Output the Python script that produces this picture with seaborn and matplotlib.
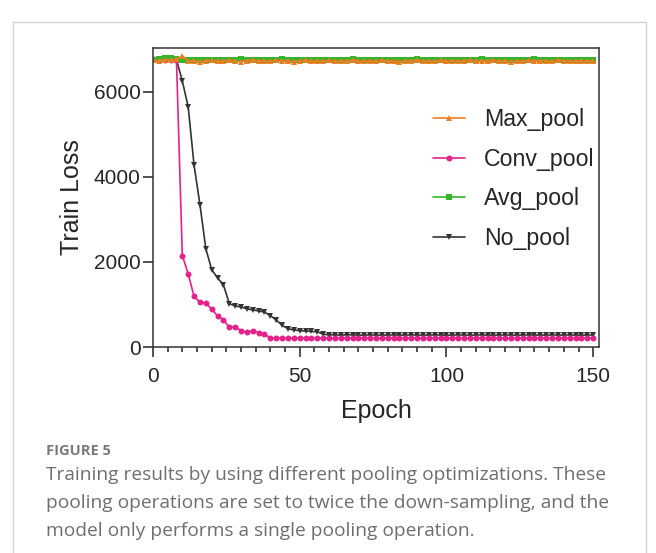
import numpy as np
import pandas as pd
import seaborn as sns
from matplotlib import pyplot as plt
from matplotlib.patches import Rectangle
from matplotlib.ticker import MultipleLocator

epochs = list(range(0, 151, 2))

max_pool = [
    6740, 6735, 6750, 6745, 6760, 6850, 6720, 6735, 6710, 6725,
    6740, 6715, 6730, 6745, 6720, 6710, 6735, 6750, 6725, 6730,
    6715, 6740, 6725, 6735, 6710, 6730, 6745, 6720, 6735, 6725,
    6740, 6715, 6730, 6720, 6745, 6730, 6715, 6735, 6725, 6740,
    6720, 6730, 6710, 6735, 6725, 6745, 6720, 6730, 6715, 6740,
    6725, 6735, 6720, 6730, 6745, 6715, 6730, 6725, 6740, 6720,
    6735, 6710, 6730, 6725, 6740, 6720, 6735, 6730, 6715, 6745,
    6725, 6730, 6720, 6735, 6725, 6730,
]
conv_pool = [
    6760, 6750, 6755, 6745, 6750, 2150, 1720, 1190, 1050, 1030,
    890, 730, 640, 465, 480, 385, 345, 385, 340, 305,
    210, 210, 205, 210, 205, 205, 210, 205, 205, 205,
    205, 205, 205, 205, 205, 205, 205, 205, 205, 205,
    205, 205, 205, 205, 205, 205, 205, 205, 205, 205,
    205, 205, 205, 205, 205, 205, 205, 205, 205, 205,
    205, 205, 205, 205, 205, 205, 205, 205, 205, 205,
    205, 205, 205, 205, 205, 205,
]
avg_pool = [
    6750, 6760, 6800, 6805, 6760, 6745, 6750, 6740, 6755, 6745,
    6750, 6740, 6755, 6745, 6750, 6760, 6745, 6750, 6740, 6755,
    6745, 6750, 6760, 6740, 6750, 6745, 6755, 6750, 6740, 6750,
    6755, 6745, 6750, 6740, 6760, 6750, 6745, 6755, 6750, 6740,
    6750, 6745, 6755, 6750, 6740, 6760, 6745, 6750, 6755, 6745,
    6740, 6750, 6755, 6745, 6750, 6740, 6760, 6750, 6745, 6755,
    6750, 6740, 6755, 6745, 6750, 6760, 6745, 6750, 6740, 6755,
    6745, 6750, 6740, 6755, 6750, 6745,
]
no_pool = [
    6750, 6745, 6760, 6750, 6755, 6255, 5645, 4275, 3350, 2315,
    1820, 1625, 1465, 1020, 965, 940, 900, 870, 850, 820,
    740, 635, 510, 430, 400, 385, 375, 365, 360, 300,
    285, 285, 280, 285, 285, 280, 280, 285, 280, 280,
    280, 285, 280, 280, 285, 280, 280, 280, 285, 280,
    280, 280, 285, 280, 280, 280, 285, 280, 280, 280,
    285, 280, 280, 280, 285, 280, 280, 280, 285, 280,
    280, 285, 280, 280, 280, 285,
]

legend_order = ["Max_pool", "Conv_pool", "Avg_pool", "No_pool"]
draw_order = ["No_pool", "Conv_pool", "Avg_pool", "Max_pool"]
series = {"Max_pool": max_pool, "Conv_pool": conv_pool,
          "Avg_pool": avg_pool, "No_pool": no_pool}
colors = {"Max_pool": "#ee7d22", "Conv_pool": "#e3228c",
          "Avg_pool": "#36b52c", "No_pool": "#333333"}
markers = {"Max_pool": "^", "Conv_pool": "o", "Avg_pool": "s", "No_pool": "v"}

df = pd.concat(
    [pd.DataFrame({"Epoch": epochs, "Train Loss": vals, "Model": name})
     for name, vals in series.items()],
    ignore_index=True,
)

sns.set_style("ticks")
plt.rcParams["font.family"] = ["Liberation Sans", "DejaVu Sans"]

fig = plt.figure(figsize=(6.56, 5.53), dpi=100)
ax = fig.add_axes([0.2332, 0.3725, 0.68, 0.5407])

for name in draw_order:
    sub = df[df["Model"] == name]
    sns.lineplot(
        data=sub, x="Epoch", y="Train Loss", ax=ax, color=colors[name],
        marker=markers[name], markersize=4.3, markeredgewidth=0,
        linewidth=1.2, label=name,
    )

ax.set_xlim(0, 152)
ax.set_ylim(0, 7030)
ax.xaxis.set_major_locator(MultipleLocator(50))
ax.xaxis.set_minor_locator(MultipleLocator(5))
ax.yaxis.set_major_locator(MultipleLocator(2000))
ax.tick_params(axis="both", which="major", length=7.5, width=1.1,
               labelsize=15, color="#222222")
ax.tick_params(axis="y", which="major", pad=1.5)
ax.tick_params(axis="x", which="major", pad=7)
ax.tick_params(axis="x", which="minor", length=3.5, width=1.1, color="#222222")
for sp in ax.spines.values():
    sp.set_linewidth(1.1)
    sp.set_color("#333333")
ax.set_xlabel("Epoch", fontsize=18, labelpad=9)
ax.set_ylabel("Train Loss", fontsize=18, labelpad=7)

handles, labels = ax.get_legend_handles_labels()
lookup = dict(zip(labels, handles))
ax.legend([lookup[n] for n in legend_order], legend_order, frameon=False,
          fontsize=16.7, loc="upper right", bbox_to_anchor=(1.015, 0.838),
          handlelength=1.4, handletextpad=0.8, labelspacing=0.72,
          borderaxespad=0.1)

# outer frame of the figure panel
fig.patches.append(Rectangle((13 / 656, -0.05), 633 / 656, 1.03 - 11 / 553,
                             transform=fig.transFigure, fill=False,
                             edgecolor="#d4d4d4", linewidth=1.0))

cap_font = ["Open Sans", "DejaVu Sans"]
fig.text(46 / 656, 1 - 451 / 553, "FIGURE 5", fontsize=10.5, fontweight="bold",
         color="#7a7a7a", family=cap_font, va="center")
caption = [
    "Training results by using different pooling optimizations. These",
    "pooling operations are set to twice the down-sampling, and the",
    "model only performs a single pooling operation.",
]
for i, line in enumerate(caption):
    fig.text(46 / 656, 1 - (475 + 28 * i) / 553, line, fontsize=13.8,
             color="#6e6e6e", family=cap_font, va="center")

fig.savefig("out.png", dpi=100)
